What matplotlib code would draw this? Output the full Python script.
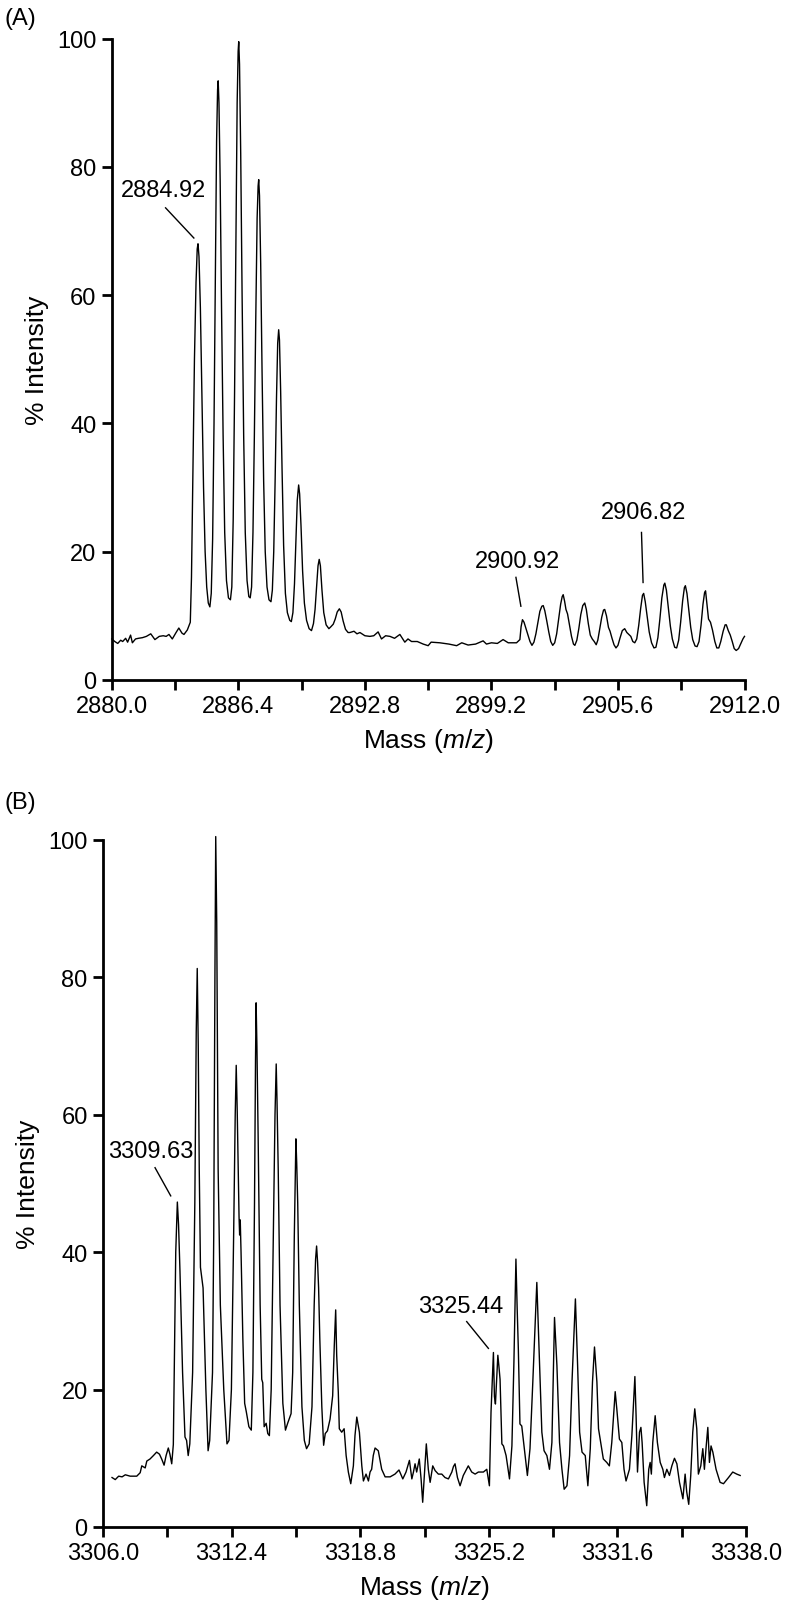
import matplotlib
matplotlib.use("Agg")
import matplotlib.pyplot as plt
import numpy as np

plt.rcParams['font.family'] = ['Liberation Sans', 'DejaVu Sans']
plt.rcParams['mathtext.fontset'] = 'custom'
plt.rcParams['mathtext.it'] = 'Liberation Sans:italic'
plt.rcParams['mathtext.rm'] = 'Liberation Sans'

# ---------------- Panel A data (m/z, % intensity) ----------------
a_baseline_left = [(2880.00, 6.4), (2880.15, 6.0), (2880.30, 5.7), (2880.45, 6.2), (2880.55, 6.0),
                   (2880.70, 6.5), (2880.80, 5.9), (2880.95, 7.0), (2881.04, 5.8), (2881.20, 6.4),
                   (2881.35, 6.5), (2881.55, 6.6), (2881.75, 6.8), (2881.97, 7.2), (2882.18, 6.3),
                   (2882.40, 6.8), (2882.60, 6.9), (2882.75, 6.8), (2882.89, 7.1), (2883.06, 6.4),
                   (2883.25, 7.4), (2883.39, 8.1), (2883.55, 7.3), (2883.65, 7.1), (2883.82, 7.8),
                   (2883.97, 9.0)]
a_cluster1 = [(2884.03, 16.0), (2884.10, 32.0), (2884.18, 50.0), (2884.26, 62.0), (2884.32, 67.2),
              (2884.36, 68.0), (2884.41, 66.0), (2884.48, 58.0), (2884.56, 44.0), (2884.64, 30.0),
              (2884.72, 20.0), (2884.80, 14.5), (2884.88, 12.0), (2884.96, 11.4),
              (2885.03, 13.5), (2885.10, 22.0), (2885.17, 40.0), (2885.24, 64.0), (2885.30, 84.0),
              (2885.35, 92.0), (2885.38, 93.4), (2885.42, 90.0), (2885.48, 78.0), (2885.55, 58.0),
              (2885.63, 38.0), (2885.71, 23.0), (2885.80, 15.5), (2885.90, 12.8), (2886.00, 12.5),
              (2886.07, 14.5), (2886.14, 25.0), (2886.21, 45.0), (2886.28, 70.0), (2886.34, 90.0),
              (2886.39, 98.0), (2886.42, 99.5), (2886.46, 96.0), (2886.52, 82.0), (2886.59, 60.0),
              (2886.67, 38.0), (2886.75, 23.0), (2886.84, 15.5), (2886.93, 13.0), (2887.00, 12.8),
              (2887.07, 14.5), (2887.14, 23.0), (2887.21, 38.0), (2887.28, 56.0), (2887.35, 72.0),
              (2887.40, 77.0), (2887.43, 78.0), (2887.47, 75.5), (2887.53, 65.0), (2887.60, 48.0),
              (2887.68, 31.0), (2887.76, 20.0), (2887.85, 14.5), (2887.95, 12.5), (2888.05, 12.2),
              (2888.12, 14.0), (2888.19, 20.0), (2888.26, 31.0), (2888.33, 44.0), (2888.39, 52.5),
              (2888.44, 54.6), (2888.48, 53.0), (2888.54, 45.0), (2888.61, 33.0), (2888.69, 21.0),
              (2888.78, 13.5), (2888.88, 10.5), (2889.00, 9.3), (2889.08, 9.1),
              (2889.16, 10.5), (2889.24, 15.0), (2889.31, 21.5), (2889.38, 28.0), (2889.45, 30.4),
              (2889.50, 29.0), (2889.57, 24.0), (2889.65, 17.0), (2889.74, 12.0), (2889.85, 9.3),
              (2889.98, 8.0), (2890.10, 7.7),
              (2890.20, 8.8), (2890.28, 11.0), (2890.36, 14.5), (2890.43, 17.8), (2890.49, 18.8),
              (2890.55, 17.8), (2890.63, 14.0), (2890.72, 10.5), (2890.84, 8.6), (2890.98, 8.0),
              (2891.08, 8.3),
              (2891.20, 8.7), (2891.30, 9.5), (2891.40, 10.6), (2891.51, 11.1), (2891.60, 10.6),
              (2891.70, 9.2), (2891.82, 7.9), (2891.95, 7.4)]
a_baseline_mid = [(2892.04, 7.4), (2892.25, 7.6), (2892.40, 7.2), (2892.55, 7.4), (2892.80, 6.9),
                  (2893.05, 6.8), (2893.25, 6.9), (2893.47, 7.5), (2893.64, 6.4), (2893.85, 6.9),
                  (2894.07, 6.8), (2894.30, 6.5), (2894.57, 7.1), (2894.82, 5.9), (2894.98, 6.4),
                  (2895.16, 6.0), (2895.45, 6.0), (2895.75, 5.6), (2896.00, 5.35), (2896.15, 5.9),
                  (2896.59, 5.8), (2897.05, 5.6), (2897.44, 5.35), (2897.70, 5.8), (2898.02, 5.45),
                  (2898.40, 5.6), (2898.78, 6.1), (2898.95, 5.6), (2899.20, 5.8), (2899.50, 5.7),
                  (2899.79, 6.3), (2900.05, 5.8), (2900.47, 5.8), (2900.64, 6.3)]
a_cluster2 = [(2900.70, 8.3), (2900.77, 9.4), (2900.85, 9.0), (2900.95, 8.0), (2901.05, 7.0),
              (2901.15, 6.0), (2901.25, 5.4), (2901.35, 5.9), (2901.45, 7.2), (2901.55, 9.0),
              (2901.65, 10.7), (2901.75, 11.5), (2901.82, 11.6), (2901.90, 10.8), (2902.00, 9.2),
              (2902.10, 7.5), (2902.20, 6.0), (2902.30, 5.4), (2902.40, 5.8), (2902.50, 7.2),
              (2902.60, 9.5), (2902.70, 11.8), (2902.78, 13.0), (2902.83, 13.3), (2902.90, 12.3),
              (2902.97, 11.0), (2903.05, 10.3), (2903.15, 8.5), (2903.25, 6.8), (2903.35, 5.6),
              (2903.42, 5.4), (2903.52, 6.2), (2903.62, 8.0), (2903.72, 10.2), (2903.82, 11.6),
              (2903.92, 12.0), (2904.00, 11.0), (2904.10, 8.8), (2904.20, 7.0), (2904.30, 6.4),
              (2904.40, 6.0), (2904.50, 5.5), (2904.58, 6.2), (2904.68, 8.0), (2904.78, 9.8),
              (2904.87, 10.9), (2904.93, 11.0), (2905.02, 10.0), (2905.12, 8.2), (2905.20, 7.6),
              (2905.30, 6.5), (2905.40, 5.5), (2905.50, 5.0), (2905.60, 5.4), (2905.70, 6.5),
              (2905.82, 7.7), (2905.94, 8.0), (2906.05, 7.4), (2906.15, 7.1), (2906.25, 6.8),
              (2906.35, 6.0), (2906.45, 5.8), (2906.55, 6.4), (2906.65, 8.5), (2906.75, 11.2),
              (2906.84, 13.2), (2906.90, 13.5), (2906.98, 12.2), (2907.08, 9.8), (2907.18, 7.5),
              (2907.30, 5.8), (2907.42, 5.0), (2907.52, 5.1), (2907.62, 6.6), (2907.72, 9.5),
              (2907.82, 12.8), (2907.92, 14.8), (2907.97, 15.1), (2908.05, 14.0), (2908.15, 11.2),
              (2908.25, 8.4), (2908.35, 6.4), (2908.47, 5.1), (2908.57, 5.0), (2908.67, 6.2),
              (2908.77, 9.0), (2908.87, 12.3), (2908.96, 14.4), (2909.01, 14.7), (2909.09, 13.5),
              (2909.18, 11.0), (2909.28, 8.2), (2909.38, 6.3), (2909.50, 5.3), (2909.60, 5.2),
              (2909.70, 6.0), (2909.80, 8.5), (2909.90, 11.8), (2909.98, 13.6), (2910.03, 13.9),
              (2910.10, 11.8), (2910.18, 9.5), (2910.28, 9.0), (2910.38, 7.8), (2910.50, 6.0),
              (2910.60, 5.0), (2910.70, 5.0), (2910.80, 6.0), (2910.92, 7.6), (2911.02, 8.6),
              (2911.08, 8.6), (2911.18, 7.7), (2911.28, 7.0), (2911.38, 6.0), (2911.48, 4.9),
              (2911.58, 4.6), (2911.70, 4.9), (2911.82, 5.7), (2911.92, 6.4), (2912.00, 6.8)]

# ---------------- Panel B data ----------------
b_baseline_left = [(3306.45, 7.2), (3306.61, 6.9), (3306.78, 7.4), (3306.95, 7.3), (3307.11, 7.6),
                   (3307.35, 7.4), (3307.68, 7.4), (3307.85, 7.9), (3307.93, 8.9), (3308.10, 8.6),
                   (3308.18, 9.6), (3308.34, 9.9), (3308.51, 10.4), (3308.67, 10.9), (3308.81, 10.6),
                   (3308.92, 9.9), (3309.04, 9.0), (3309.14, 10.4), (3309.25, 11.5), (3309.33, 10.6),
                   (3309.42, 9.2), (3309.50, 12.0)]
b_cluster1 = [(3309.55, 24.0), (3309.62, 40.0), (3309.70, 47.3), (3309.76, 44.0), (3309.83, 37.3),
              (3309.96, 22.5), (3310.08, 13.1), (3310.16, 12.6), (3310.24, 10.4), (3310.32, 12.1),
              (3310.46, 22.5), (3310.57, 47.2), (3310.64, 72.0), (3310.69, 81.3), (3310.74, 70.0),
              (3310.79, 52.1), (3310.85, 37.8), (3310.98, 34.8), (3311.12, 20.0), (3311.23, 11.1),
              (3311.31, 12.6), (3311.45, 22.5), (3311.51, 42.2), (3311.57, 80.0), (3311.61, 100.5),
              (3311.66, 88.0), (3311.73, 52.1), (3311.84, 32.3), (3312.01, 20.0), (3312.17, 12.1),
              (3312.27, 12.6), (3312.39, 20.0), (3312.50, 42.2), (3312.58, 60.0), (3312.63, 67.2),
              (3312.68, 60.5), (3312.77, 45.2), (3312.80, 42.5), (3312.83, 44.7), (3312.87, 40.0),
              (3312.96, 27.4), (3313.05, 18.0), (3313.13, 16.8), (3313.26, 14.6), (3313.38, 14.1),
              (3313.46, 22.5), (3313.54, 47.2), (3313.59, 68.0), (3313.62, 76.3), (3313.66, 70.0),
              (3313.72, 57.0), (3313.82, 32.3), (3313.90, 21.5), (3313.95, 21.0), (3314.02, 14.6),
              (3314.12, 15.1), (3314.20, 13.6), (3314.28, 13.3), (3314.37, 20.0), (3314.45, 37.3),
              (3314.56, 60.0), (3314.62, 67.4), (3314.66, 62.0), (3314.72, 52.1), (3314.81, 32.3),
              (3314.95, 18.0), (3315.08, 14.1), (3315.19, 15.1), (3315.36, 16.5), (3315.44, 22.5),
              (3315.52, 42.2), (3315.60, 56.5), (3315.64, 53.0), (3315.69, 47.2), (3315.77, 32.3),
              (3315.90, 17.5), (3316.02, 12.6), (3316.13, 11.4), (3316.26, 12.1), (3316.40, 17.5),
              (3316.51, 32.3), (3316.58, 39.0), (3316.63, 40.9), (3316.68, 38.5), (3316.73, 34.8),
              (3316.79, 27.4), (3316.89, 17.5), (3316.98, 11.9), (3317.06, 13.6), (3317.17, 14.0),
              (3317.30, 15.7), (3317.43, 19.1), (3317.51, 26.4), (3317.58, 31.6), (3317.63, 25.0),
              (3317.71, 19.6), (3317.76, 14.3), (3317.88, 13.8), (3318.00, 14.3), (3318.10, 10.4),
              (3318.21, 8.0)]
b_baseline_mid = [(3318.33, 6.3), (3318.46, 8.9), (3318.54, 13.3), (3318.63, 16.0), (3318.76, 13.8),
                  (3318.88, 8.9), (3318.96, 6.7), (3319.09, 7.7), (3319.21, 6.7), (3319.29, 8.0),
                  (3319.37, 8.4), (3319.45, 10.4), (3319.54, 11.5), (3319.70, 11.1), (3319.87, 8.4),
                  (3320.04, 7.3), (3320.29, 7.3), (3320.53, 7.7), (3320.73, 8.3), (3320.92, 7.0),
                  (3321.08, 8.0), (3321.25, 9.7), (3321.37, 7.0), (3321.45, 8.0), (3321.53, 9.2),
                  (3321.61, 8.0), (3321.74, 9.9), (3321.83, 7.0), (3321.91, 3.6), (3322.01, 8.4),
                  (3322.09, 12.1), (3322.19, 8.4), (3322.28, 6.5), (3322.41, 8.9), (3322.53, 8.2),
                  (3322.69, 7.7), (3322.86, 7.7), (3323.02, 7.2), (3323.19, 7.0), (3323.36, 8.0),
                  (3323.44, 8.8), (3323.52, 9.2), (3323.64, 7.2), (3323.77, 6.0), (3323.93, 7.5),
                  (3324.18, 8.9), (3324.35, 8.0), (3324.52, 7.7), (3324.68, 8.0), (3324.93, 8.0),
                  (3325.10, 8.4), (3325.23, 6.0)]
b_cluster2 = [(3325.31, 16.7), (3325.43, 25.4), (3325.48, 19.0), (3325.53, 17.9), (3325.58, 21.0),
              (3325.65, 25.0), (3325.70, 23.5), (3325.76, 21.5), (3325.85, 12.1), (3325.93, 11.8),
              (3326.06, 10.4), (3326.23, 7.0), (3326.35, 11.8), (3326.45, 24.0), (3326.55, 39.0),
              (3326.61, 32.0), (3326.67, 25.9), (3326.75, 15.0), (3326.84, 14.7), (3326.97, 11.4),
              (3327.12, 7.5), (3327.25, 11.4), (3327.39, 21.1), (3327.59, 35.6), (3327.70, 25.9),
              (3327.84, 13.8), (3327.95, 11.1), (3328.09, 10.4), (3328.22, 8.4), (3328.34, 12.3),
              (3328.47, 30.5), (3328.59, 23.5), (3328.72, 12.3), (3328.84, 8.4), (3328.95, 5.5),
              (3329.09, 6.0), (3329.22, 10.4), (3329.34, 21.1), (3329.51, 33.2), (3329.62, 23.5),
              (3329.72, 13.8), (3329.84, 10.9), (3330.00, 10.4), (3330.13, 6.0), (3330.25, 11.4),
              (3330.36, 21.1), (3330.46, 26.2), (3330.58, 21.1), (3330.66, 14.3), (3330.77, 12.3),
              (3330.90, 9.9), (3331.07, 9.4), (3331.20, 8.9), (3331.32, 12.3), (3331.49, 19.7),
              (3331.57, 17.2), (3331.70, 12.8), (3331.82, 12.3), (3331.93, 8.4), (3332.03, 6.7),
              (3332.20, 8.4), (3332.32, 13.3), (3332.47, 21.9), (3332.53, 16.2), (3332.60, 8.0),
              (3332.70, 13.8), (3332.77, 14.5), (3332.83, 12.3), (3332.93, 6.5), (3333.06, 3.1),
              (3333.16, 8.4), (3333.23, 9.4), (3333.29, 7.7), (3333.36, 12.3), (3333.48, 16.2),
              (3333.59, 12.3), (3333.73, 9.4), (3333.86, 8.4), (3333.94, 7.2), (3334.06, 8.4),
              (3334.19, 7.5), (3334.31, 8.9), (3334.44, 10.0), (3334.56, 9.2), (3334.69, 6.5),
              (3334.86, 4.1), (3334.97, 7.7), (3335.05, 5.1), (3335.15, 3.3), (3335.25, 7.5),
              (3335.35, 13.8), (3335.45, 17.2), (3335.55, 14.3), (3335.63, 7.7), (3335.75, 8.9),
              (3335.85, 11.4), (3335.93, 8.4), (3336.02, 11.8), (3336.10, 14.5), (3336.18, 9.4),
              (3336.26, 11.8), (3336.35, 10.9), (3336.51, 8.4), (3336.71, 6.5), (3336.88, 6.3),
              (3337.13, 7.2), (3337.34, 8.0), (3337.54, 7.7), (3337.71, 7.5)]

# ---------------- axes ticks / labels ----------------
y_ticks = [0, 20, 40, 60, 80, 100]
x_ticks_a = [2880.0, 2883.2, 2886.4, 2889.6, 2892.8, 2896.0, 2899.2, 2902.4, 2905.6, 2908.8, 2912.0]
x_labels_a = ['2880.0', '', '2886.4', '', '2892.8', '', '2899.2', '', '2905.6', '', '2912.0']
x_ticks_b = [3306.0, 3309.2, 3312.4, 3315.6, 3318.8, 3322.0, 3325.2, 3328.4, 3331.6, 3334.8, 3338.0]
x_labels_b = ['3306.0', '', '3312.4', '', '3318.8', '', '3325.2', '', '3331.6', '', '3338.0']

# annotations: label, text position (x, y), leader line start (x, y), end (x, y)
ann_labels_a = ['2884.92', '2900.92', '2906.82']
ann_text_a = [(2882.64, 76.4), (2900.54, 18.6), (2906.91, 26.2)]
ann_line_a = [((2882.72, 73.6), (2884.15, 68.9)), ((2900.44, 16.0), (2900.69, 11.5)),
              ((2906.79, 23.0), (2906.87, 15.2))]
ann_labels_b = ['3309.63', '3325.44']
ann_text_b = [(3308.38, 54.7), (3323.78, 32.2)]
ann_line_b = [((3308.59, 52.3), (3309.37, 48.2)), ((3324.10, 29.9), (3325.18, 26.0))]

W, H = 800, 1624
fig = plt.figure(figsize=(W / 100, H / 100), dpi=100)
axA = fig.add_axes([111.8 / W, (H - 681) / H, 632.7 / W, 641.5 / H])
axB = fig.add_axes([103 / W, (H - 1528) / H, 643 / W, 687 / H])


def draw(ax, segments, xticks, xlabels, labels, tpos, lines):
    pts = [p for seg in segments for p in seg]
    x = [p[0] for p in pts]
    y = [p[1] for p in pts]
    ax.plot(x, y, color='black', lw=1.0, clip_on=False, solid_joinstyle='round')
    ax.set_xlim(xticks[0], xticks[-1])
    ax.set_ylim(0, 100)
    for s in ['top', 'right']:
        ax.spines[s].set_visible(False)
    for s in ['left', 'bottom']:
        ax.spines[s].set_linewidth(2.0)
    ax.set_xticks(xticks)
    ax.set_xticklabels(xlabels)
    ax.set_yticks(y_ticks)
    ax.set_yticklabels([str(v) for v in y_ticks])
    ax.tick_params(direction='out', length=7, width=2.0, labelsize=17, pad=4)
    ax.set_ylabel('% Intensity', fontsize=19, labelpad=6)
    ax.set_xlabel('Mass ($\\mathit{m/z}$)', fontsize=19, labelpad=6)
    for lab, (tx, ty), ((x0, y0), (x1, y1)) in zip(labels, tpos, lines):
        ax.text(tx, ty, lab, ha='center', va='center', fontsize=17)
        ax.plot([x0, x1], [y0, y1], color='black', lw=1.0)


draw(axA, [a_baseline_left, a_cluster1, a_baseline_mid, a_cluster2], x_ticks_a, x_labels_a,
     ann_labels_a, ann_text_a, ann_line_a)
draw(axB, [b_baseline_left, b_cluster1, b_baseline_mid, b_cluster2], x_ticks_b, x_labels_b,
     ann_labels_b, ann_text_b, ann_line_b)

fig.text(4 / W, 1 - 19 / H, '(A)', fontsize=17, ha='left', va='center')
fig.text(4 / W, 1 - 803 / H, '(B)', fontsize=17, ha='left', va='center')

fig.savefig('out.png', dpi=100, facecolor='white')
